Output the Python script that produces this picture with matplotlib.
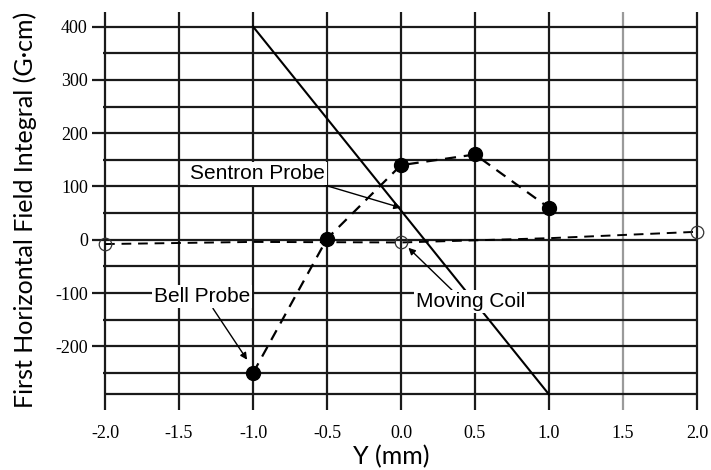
import numpy as np
import matplotlib.pyplot as plt

# field integral scans across the gap, Y in mm, integral in G*cm
bell_y = [-1.0, -0.5, 0.0, 0.5, 1.0]
bell_int = [-250, 2, 140, 160, 60]

coil_y = [-2.0, -1.0, 0.0, 1.0, 2.0]
coil_int = [-8, -4, -5, 3, 15]
coil_marked = [0, 2, 4]

sentron_y = [-1.0, 0.0, 1.0]
sentron_int = [400, 55, -290]

x_ticks = [-2.0, -1.5, -1.0, -0.5, 0.0, 0.5, 1.0, 1.5, 2.0]
y_ticks = [-200, -100, 0, 100, 200, 300, 400]
y_minor = [-250, -150, -50, 50, 150, 250, 350]
y_floor = -290

fig = plt.figure(figsize=(7.11, 4.70), dpi=100)
ax = fig.add_axes([92 / 711, 58 / 470, 619 / 711, 402 / 470])
ax.set_xlim(-2.088, 2.095)
ax.set_ylim(-323, 431)
for s in ax.spines.values():
    s.set_visible(False)

tick_font = dict(family=["Liberation Serif"], size=13)
ax.set_xticks(x_ticks)
ax.set_xticklabels([f"{v:.1f}" for v in x_ticks], **tick_font)
ax.set_yticks(y_ticks)
ax.set_yticklabels([str(v) for v in y_ticks], **tick_font)
ax.tick_params(axis="x", length=0, pad=9)
ax.tick_params(axis="y", length=0, pad=3)

# hand-drawn style grid
grid_kw = dict(color="#1a1a1a", lw=1.6, zorder=1)
for xv in x_ticks:
    c = "#9a9a9a" if xv == 1.5 else "#1a1a1a"
    ax.vlines(xv, -319, 428, color=c, lw=1.6, zorder=1)
ax.hlines(y_ticks, -2.088, 2.0, **grid_kw)
ax.hlines(y_minor, -2.015, 2.0, **grid_kw)
ax.hlines(y_floor, -2.0, 2.0, **grid_kw)

# series
ax.plot(sentron_y, sentron_int, color="black", lw=1.5, zorder=3)
ax.plot(bell_y, bell_int, color="black", lw=1.6, ls=(0, (5, 3.5)),
        marker="o", ms=10, mfc="black", mec="black", zorder=4)
ax.plot(coil_y, coil_int, color="black", lw=1.4, ls=(0, (5, 3.5)),
        marker="o", ms=9, mfc="none", mec="#333333", mew=0.9,
        markevery=coil_marked, zorder=4)

note_font = dict(family=["Liberation Sans Narrow", "Liberation Sans"], size=15)
box = dict(boxstyle="square,pad=0.1", fc="white", ec="none")
arrow = dict(arrowstyle="-|>", color="black", lw=1.0, mutation_scale=10,
             shrinkA=0, shrinkB=0)

ax.annotate("Sentron Probe", xy=(0.0, 60), xytext=(-0.97, 124),
            ha="center", va="center", bbox=box, zorder=5,
            arrowprops=dict(arrow, relpos=(0.95, 0.0)), **note_font)
ax.annotate("Bell Probe", xy=(-1.04, -225), xytext=(-1.345, -107),
            ha="center", va="center", bbox=box, zorder=5,
            arrowprops=dict(arrow, relpos=(0.6, 0.0)), **note_font)
ax.annotate("Moving Coil", xy=(0.05, -15), xytext=(0.47, -116),
            ha="center", va="center", bbox=box, zorder=5,
            arrowprops=dict(arrow, relpos=(0.35, 1.0)), **note_font)

label_font = dict(family=["Lato", "DejaVu Sans"], size=18)
fig.text(25 / 711, 1 - 210 / 470, "First Horizontal Field Integral (G\u00b7cm)",
         rotation=90, ha="center", va="center", **label_font)
fig.text(391 / 711, 1 - 457 / 470, "Y (mm)", ha="center", va="center", **label_font)

fig.savefig("out.png", dpi=100)
